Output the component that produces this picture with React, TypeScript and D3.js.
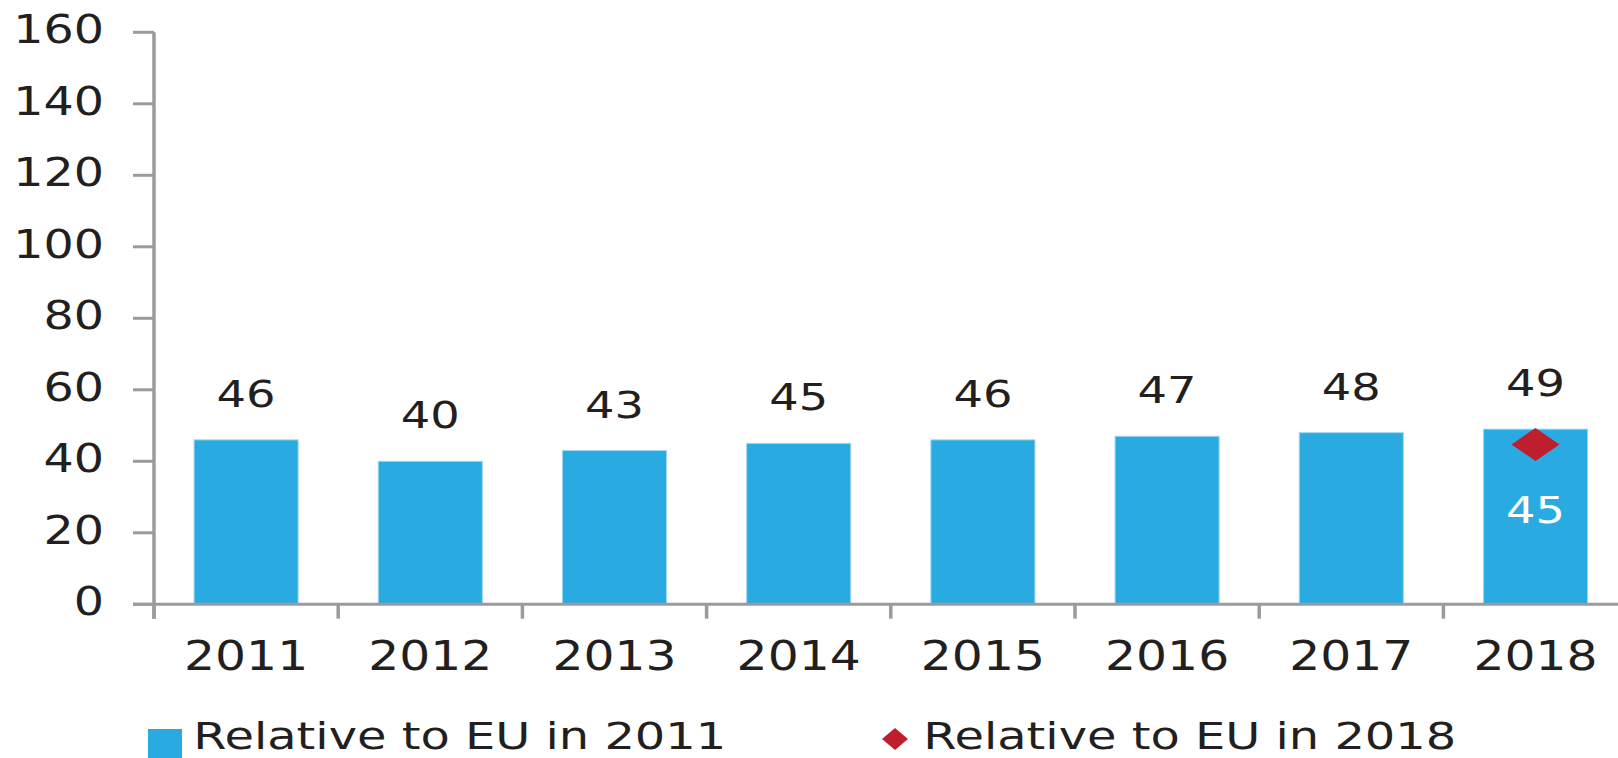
import React from "react";
import * as d3 from "d3";

const years = ["2011", "2012", "2013", "2014", "2015", "2016", "2017", "2018"];
const relEU2011 = [46, 40, 43, 45, 46, 47, 48, 49];
const rel2018Year = "2018";
const rel2018Value = 45;
const yTicks = [0, 20, 40, 60, 80, 100, 120, 140, 160];
const legendLabels = ["Relative to EU in 2011", "Relative to EU in 2018"];

const W = 1618;
const H = 758;
const BLUE = "#29abe2";
const RED = "#be1e2d";
const GREY = "#9b9b9e";
const TEXT = "#231f20";
const FONT = "'DejaVu Sans', Verdana, sans-serif";
const SX = 1.22;

export default function App() {
  const x = d3
    .scaleBand<string>()
    .domain(years)
    .range([154, 154 + 8 * 184.2])
    .paddingInner(0.435)
    .paddingOuter(0.2175);
  const y = d3.scaleLinear().domain([0, 160]).range([604.3, 32.3]);
  const step = x.step();
  const x0 = 154;

  const stretchedText = (
    cx: number,
    by: number,
    txt: string,
    size: number,
    fill: string,
    anchor: "middle" | "end" = "middle",
    key?: string
  ) => (
    <g key={key} transform={`translate(${cx},${by}) scale(${SX},1)`}>
      <text x={0} y={0} fontFamily={FONT} fontSize={size} fill={fill} textAnchor={anchor}>
        {txt}
      </text>
    </g>
  );

  const diamond = (cx: number, cy: number, w: number, h: number) =>
    `M${cx},${cy - h / 2} L${cx + w / 2},${cy} L${cx},${cy + h / 2} L${cx - w / 2},${cy} Z`;

  return (
    <svg
      width={W}
      height={H}
      style={{ position: "absolute", left: 0, top: 0, display: "block", background: "#fff" }}
    >
      {/* bars */}
      {years.map((yr, i) => (
        <rect
          key={yr}
          x={x(yr)!}
          y={y(relEU2011[i])}
          width={x.bandwidth()}
          height={y(0) - y(relEU2011[i])}
          fill={BLUE}
          stroke="#9fd6f1"
          strokeWidth={1}
        />
      ))}

      {/* y axis */}
      <line x1={x0} x2={x0} y1={y(160)} y2={618.7} stroke={GREY} strokeWidth={3.5} />
      {yTicks.map((t) => (
        <g key={t}>
          <line x1={133} x2={x0} y1={y(t)} y2={y(t)} stroke={GREY} strokeWidth={3} />
          {stretchedText(104, y(t) + 11, String(t), 39, TEXT, "end")}
        </g>
      ))}

      {/* x axis */}
      <line x1={133} x2={W} y1={y(0)} y2={y(0)} stroke={GREY} strokeWidth={3} />
      {d3.range(0, 9).map((i) => (
        <line
          key={i}
          x1={x0 + i * step}
          x2={x0 + i * step}
          y1={y(0)}
          y2={618.7}
          stroke={GREY}
          strokeWidth={3.5}
        />
      ))}
      {years.map((yr) =>
        stretchedText(x(yr)! + x.bandwidth() / 2, 670, yr, 40, TEXT, "middle", "xl" + yr)
      )}

      {/* data labels */}
      {years.map((yr, i) =>
        stretchedText(
          x(yr)! + x.bandwidth() / 2,
          y(relEU2011[i]) - 33,
          String(relEU2011[i]),
          38,
          TEXT,
          "middle",
          "dl" + yr
        )
      )}

      {/* 2018 diamond */}
      <path
        d={diamond(x(rel2018Year)! + x.bandwidth() / 2, y(rel2018Value) + 1, 48, 33)}
        fill={RED}
      />
      {stretchedText(
        x(rel2018Year)! + x.bandwidth() / 2,
        523,
        String(rel2018Value),
        38,
        "#ffffff",
        "middle",
        "inner"
      )}

      {/* legend */}
      <rect x={148} y={729} width={34} height={29} fill={BLUE} />
      <text
        x={193.3}
        y={748.5}
        fontFamily={FONT}
        fontSize={38}
        fill={TEXT}
        textLength={533}
        lengthAdjust="spacingAndGlyphs"
      >
        {legendLabels[0]}
      </text>
      <path d={diamond(895, 739, 26, 22)} fill={RED} />
      <text
        x={923.3}
        y={748.5}
        fontFamily={FONT}
        fontSize={38}
        fill={TEXT}
        textLength={533}
        lengthAdjust="spacingAndGlyphs"
      >
        {legendLabels[1]}
      </text>
    </svg>
  );
}
